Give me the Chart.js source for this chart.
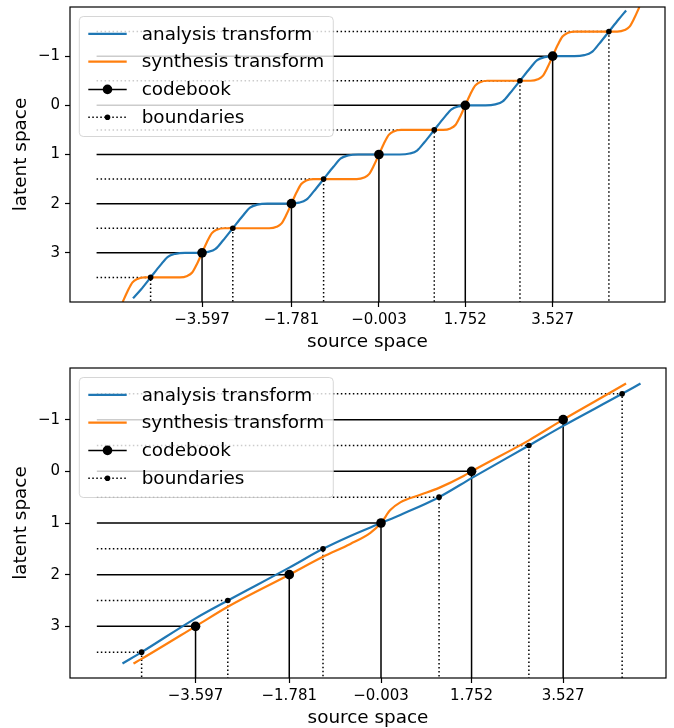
<!DOCTYPE html>
<html>
<head>
<meta charset="utf-8">
<script src="https://cdn.jsdelivr.net/npm/chart.js@4.4.0/dist/chart.umd.min.js"></script>
<style>
  body { margin: 0; background: #fff; }
  canvas { display: block; }
</style>
</head>
<body>
<canvas id="steps" width="674" height="360"></canvas>
<canvas id="smooth" width="674" height="368"></canvas>
<script>
// quantizer shared by both panels
const codebookX = [-3.597, -1.781, -0.003, 1.752, 3.527];
const codebookY = [3, 2, 1, 0, -1];
const boundaryX = [-4.642, -2.972, -1.127, 1.122, 2.863, 4.670];
const boundaryY = [3.5, 2.5, 1.5, 0.5, -0.5, -1.5];

const xTickLabels = ['−3.597', '−1.781', '−0.003', '1.752', '3.527'];
const yTickValues = [-1, 0, 1, 2, 3];
const yTickLabels = ['−1', '0', '1', '2', '3'];
const legendLabels = ['analysis transform', 'synthesis transform', 'codebook', 'boundaries'];

// top panel: staircase transforms
const stepAnalysisX = [-5.0, -4.842, -4.642, -4.442, -4.292, -4.142, -3.942,
  -3.672, -3.472, -3.322, -3.172, -2.972, -2.772, -2.622, -2.472, -2.272,
  -1.827, -1.627, -1.477, -1.327, -1.127, -0.927, -0.777, -0.627, -0.427,
  0.422, 0.622, 0.772, 0.922, 1.122, 1.322, 1.472, 1.622, 1.822,
  2.163, 2.363, 2.513, 2.663, 2.863, 3.063, 3.213, 3.363, 3.563,
  3.970, 4.170, 4.320, 4.470, 4.670, 4.870, 5.02];
const stepAnalysisY = [3.925, 3.75, 3.5, 3.25, 3.08, 3.02, 3.0,
  3.0, 2.98, 2.92, 2.75, 2.5, 2.25, 2.08, 2.02, 2.0,
  2.0, 1.98, 1.92, 1.75, 1.5, 1.25, 1.08, 1.02, 1.0,
  1.0, 0.98, 0.92, 0.75, 0.5, 0.25, 0.08, 0.02, 0.0,
  0.0, -0.02, -0.08, -0.25, -0.5, -0.75, -0.92, -0.98, -1.0,
  -1.0, -1.02, -1.08, -1.25, -1.5, -1.75, -1.93];
const stepSynthesisX = [-5.21, -5.11, -5.01, -4.91, -4.76,
  -4.047, -3.897, -3.797, -3.697, -3.597, -3.497, -3.397, -3.297, -3.147,
  -2.231, -2.081, -1.981, -1.881, -1.781, -1.681, -1.581, -1.481, -1.331,
  -0.453, -0.303, -0.203, -0.103, -0.003, 0.097, 0.197, 0.297, 0.447,
  1.302, 1.452, 1.552, 1.652, 1.752, 1.852, 1.952, 2.052, 2.202,
  3.077, 3.227, 3.327, 3.427, 3.527, 3.627, 3.727, 3.827, 3.977,
  4.84, 4.99, 5.09, 5.19, 5.29];
const stepSynthesisY = [4.0, 3.78, 3.6, 3.53, 3.5,
  3.5, 3.47, 3.4, 3.22, 3.0, 2.78, 2.6, 2.53, 2.5,
  2.5, 2.47, 2.4, 2.22, 2.0, 1.78, 1.6, 1.53, 1.5,
  1.5, 1.47, 1.4, 1.22, 1.0, 0.78, 0.6, 0.53, 0.5,
  0.5, 0.47, 0.4, 0.22, 0.0, -0.22, -0.4, -0.47, -0.5,
  -0.5, -0.53, -0.6, -0.78, -1.0, -1.22, -1.4, -1.47, -1.5,
  -1.5, -1.53, -1.6, -1.78, -2.0];

// bottom panel: almost linear transforms
const smoothAnalysisX = [-5.013, -4.642, -3.597, -2.972, -1.781, -1.127, -0.597, -0.003,
  0.371, 1.122, 1.752, 2.863, 3.527, 4.670, 5.026];
const smoothAnalysisY = [3.72, 3.5, 2.845, 2.5, 1.864, 1.5, 1.25, 1.0,
  0.843, 0.5, 0.132, -0.5, -0.88, -1.5, -1.70];
const smoothSynthesisX = [-4.80, -4.642, -3.597, -2.972, -1.781, -1.127, -0.597, -0.209, -0.003,
  0.177, 0.371, 0.759, 1.122, 1.597, 1.752, 2.863, 3.527, 4.670, 4.746];
const smoothSynthesisY = [3.72, 3.63, 3.0, 2.62, 2.0, 1.655, 1.405, 1.19, 1.0,
  0.75, 0.60, 0.455, 0.32, 0.09, 0.0, -0.6, -1.0, -1.655, -1.70];

const Y_MIN = -2, Y_MAX = 4;
const FONT = 'DejaVu Sans';
const BLUE = '#1f77b4', ORANGE = '#ff7f0e';

const pts = (xs, ys) => xs.map((x, i) => ({x: x, y: ys[i]}));

// box around the axes plus the legend on top of everything
const framePlugin = {
  id: 'frame',
  afterDatasetsDraw(chart) {
    const ctx = chart.ctx, a = chart.chartArea;
    ctx.save();
    ctx.strokeStyle = '#000';
    ctx.lineWidth = 1.2;
    ctx.strokeRect(a.left, a.top, a.right - a.left, a.bottom - a.top);

    const fs = 18.4;
    ctx.font = fs + 'px "' + FONT + '"';
    const textW = Math.max(...legendLabels.map(t => ctx.measureText(t).width));
    const pad = 9, handleLen = 38.4, gap = 15;
    const bx = a.left + 9.3, by = a.top + 9.5;
    const bw = pad + handleLen + gap + textW + pad, bh = 120;
    ctx.beginPath();
    ctx.roundRect(bx, by, bw, bh, 4);
    ctx.fillStyle = 'rgba(255,255,255,0.8)';
    ctx.fill();
    ctx.strokeStyle = 'rgba(204,204,204,0.8)';
    ctx.lineWidth = 1;
    ctx.stroke();

    const styles = [
      {color: BLUE, width: 2.2, dash: [], dot: 0},
      {color: ORANGE, width: 2.2, dash: [], dot: 0},
      {color: '#000', width: 1.5, dash: [], dot: 4.8},
      {color: '#000', width: 1.5, dash: [1.5, 2.5], dot: 2.8}
    ];
    legendLabels.forEach((label, i) => {
      const y = by + 17.3 + i * 27.8;
      const s = styles[i];
      const x0 = bx + pad, x1 = x0 + handleLen;
      ctx.beginPath();
      ctx.setLineDash(s.dash);
      ctx.strokeStyle = s.color;
      ctx.lineWidth = s.width;
      ctx.moveTo(x0, y);
      ctx.lineTo(x1, y);
      ctx.stroke();
      ctx.setLineDash([]);
      if (s.dot) {
        ctx.beginPath();
        ctx.fillStyle = s.color;
        ctx.arc((x0 + x1) / 2, y, s.dot, 0, Math.PI * 2);
        ctx.fill();
      }
      ctx.fillStyle = '#000';
      ctx.textBaseline = 'middle';
      ctx.textAlign = 'left';
      ctx.fillText(label, x1 + gap, y + 1);
    });
    ctx.restore();
  }
};

function makeChart(id, p) {
  const datasets = [];
  codebookX.forEach((cx, i) => datasets.push({
    data: [{x: p.guideStart, y: codebookY[i]}, {x: cx, y: codebookY[i]}, {x: cx, y: Y_MAX}],
    showLine: true, borderColor: '#000', borderWidth: 1.5, pointRadius: 0, order: 5
  }));
  boundaryX.forEach((bx, i) => datasets.push({
    data: [{x: p.guideStart, y: boundaryY[i]}, {x: bx, y: boundaryY[i]}, {x: bx, y: Y_MAX}],
    showLine: true, borderColor: '#000', borderWidth: 1.5, borderDash: [1.5, 2.5],
    pointRadius: 0, order: 5
  }));
  datasets.push({
    label: legendLabels[0], data: pts(p.ax, p.ay), showLine: true,
    borderColor: BLUE, borderWidth: 2.2, pointRadius: 0,
    cubicInterpolationMode: 'monotone', order: 4
  });
  datasets.push({
    label: legendLabels[1], data: pts(p.sx, p.sy), showLine: true,
    borderColor: ORANGE, borderWidth: 2.2, pointRadius: 0,
    cubicInterpolationMode: 'monotone', order: 3
  });
  datasets.push({
    label: legendLabels[2], data: pts(codebookX, codebookY),
    pointRadius: 4.8, pointBackgroundColor: '#000', pointBorderWidth: 0, order: 2
  });
  datasets.push({
    label: legendLabels[3], data: pts(boundaryX, boundaryY),
    pointRadius: 2.8, pointBackgroundColor: '#000', pointBorderWidth: 0, order: 1
  });

  return new Chart(document.getElementById(id), {
    type: 'scatter',
    data: {datasets: datasets},
    plugins: [framePlugin],
    options: {
      responsive: false,
      animation: false,
      events: [],
      layout: {padding: p.padding},
      plugins: {legend: {display: false}, tooltip: {enabled: false}},
      scales: {
        x: {
          type: 'linear', min: p.xMin, max: p.xMax,
          afterBuildTicks: s => { s.ticks = codebookX.map(v => ({value: v})); },
          afterFit: s => { s.height = 50; s.paddingLeft = 0; s.paddingRight = 0; },
          ticks: {
            autoSkip: false, maxRotation: 0, padding: 4, color: '#000',
            font: {family: FONT, size: 15},
            callback: (v, i) => xTickLabels[i]
          },
          grid: {drawOnChartArea: false, drawTicks: true, tickLength: 5, color: '#000', tickWidth: 1.2},
          border: {display: false},
          title: {
            display: true, text: 'source space', color: '#000',
            font: {family: FONT, size: 18.4, lineHeight: 1},
            padding: {top: 0, bottom: 0.5}
          }
        },
        y: {
          type: 'linear', reverse: true, min: Y_MIN, max: Y_MAX,
          afterBuildTicks: s => { s.ticks = yTickValues.map(v => ({value: v})); },
          afterFit: s => { s.width = 70; s.paddingTop = 0; s.paddingBottom = 0; },
          ticks: {
            padding: 5, color: '#000',
            font: {family: FONT, size: 15},
            callback: (v, i) => yTickLabels[i]
          },
          grid: {drawOnChartArea: false, drawTicks: true, tickLength: 5, color: '#000', tickWidth: 1.2},
          border: {display: false},
          title: {
            display: true, text: 'latent space', color: '#000',
            font: {family: FONT, size: 18.4, lineHeight: 1},
            padding: {top: 12, bottom: 0}
          }
        }
      }
    }
  });
}

makeChart('steps', {
  ax: stepAnalysisX, ay: stepAnalysisY, sx: stepSynthesisX, sy: stepSynthesisY,
  guideStart: -5.74, xMin: -6.28, xMax: 5.81,
  padding: {top: 7, right: 9, bottom: 8, left: 0}
});
makeChart('smooth', {
  ax: smoothAnalysisX, ay: smoothAnalysisY, sx: smoothSynthesisX, sy: smoothSynthesisY,
  guideStart: -5.51, xMin: -6.03, xMax: 5.52,
  padding: {top: 8, right: 8, bottom: 0, left: 0}
});
</script>
</body>
</html>
